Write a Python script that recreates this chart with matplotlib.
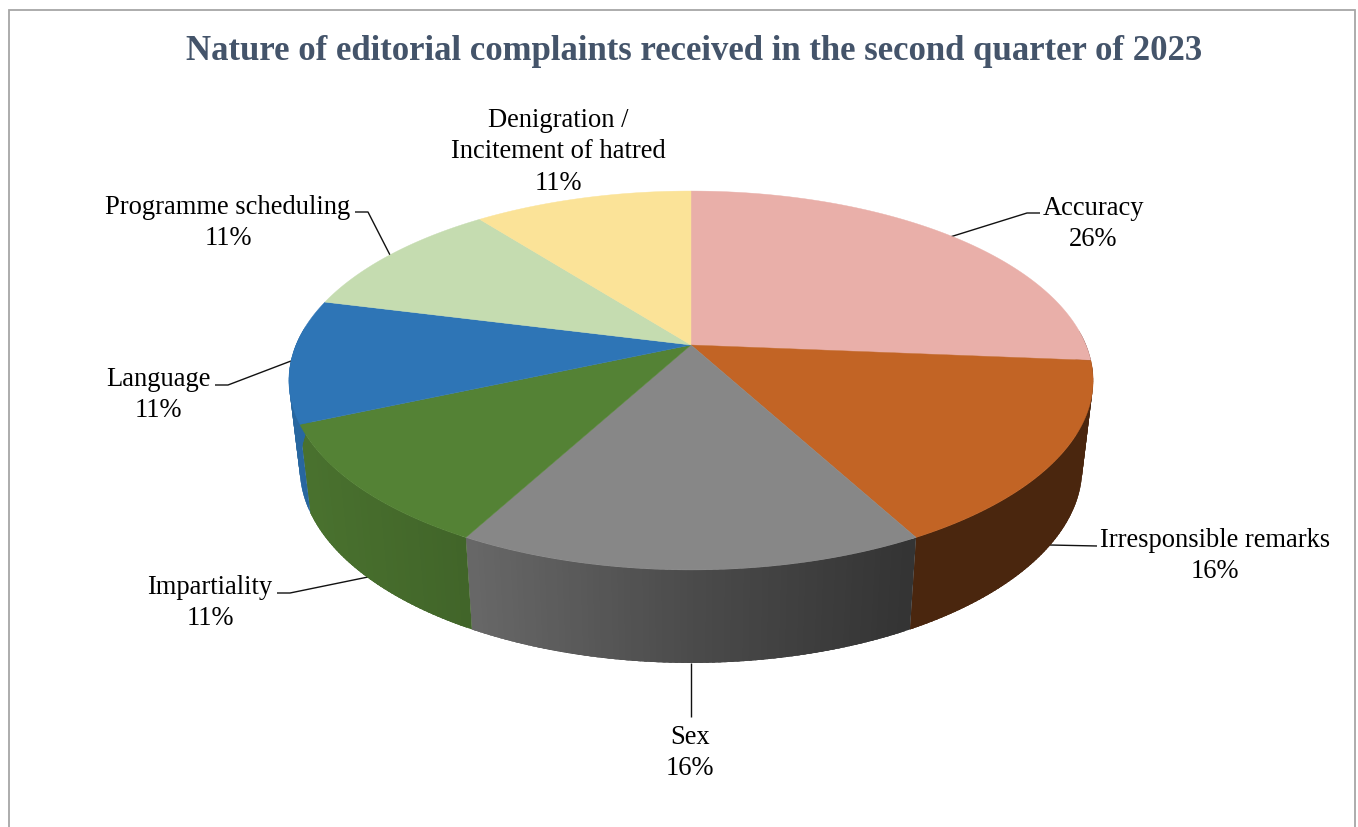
import numpy as np
import matplotlib
matplotlib.use("Agg")
import matplotlib.pyplot as plt
from matplotlib.colors import to_rgb
from matplotlib.patches import Polygon

# Complaint counts per category
categories = ["Accuracy", "Irresponsible remarks", "Sex", "Impartiality",
              "Language", "Programme scheduling", "Denigration /\nIncitement of hatred"]
complaints = [5, 3, 3, 2, 2, 2, 2]
top_colors = ["#e9afa9", "#c26425", "#878787", "#548235", "#2e75b6", "#c5dcb0", "#fbe398"]
title = "Nature of editorial complaints received in the second quarter of 2023"

# Label centres in pixels, and the leader line running from each label to its slice
label_pos = [(1093, 224), (1215, 556), (690, 753), (210, 603), (158, 395), (228, 223), (558, 152)]
leaders = [
    [(1040, 213), (1027, 213), (950, 237)],
    [(1097, 546), (1050, 545)],
    [(691, 663), (691, 717)],
    [(277, 593), (290, 593), (368, 577)],
    [(215, 385), (228, 385), (291, 361)],
    [(355, 212), (368, 212), (390, 255)],
]

# Perspective of the pie's top disc
CX, CY = 691.0, 345.0
KP, AX_R, AY_R = 0.1873, 395.0, 182.8
# Lower rim relative to the top rim
X_SHRINK, Y_STRETCH, RIM_TOP, RIM_BOTTOM = 0.973, 1.03, 537.0, 629.0


def top_rim(theta):
    """Clockwise angle from 12 o'clock -> point on the top disc's rim."""
    u, v = np.sin(theta), np.cos(theta)
    w = 1 + KP * v
    return CX + AX_R * u / w, CY - AY_R * v / w


def lower_rim(x, y):
    return CX + X_SHRINK * (x - CX), RIM_BOTTOM + Y_STRETCH * (y - RIM_TOP)


def wall_shade(x):
    """Side walls darken from left to right."""
    return np.interp(x, [290, 470, 691, 917, 1100], [0.88, 0.77, 0.56, 0.38, 0.38])


plt.rcParams["font.family"] = ["Liberation Serif", "DejaVu Serif"]
fig = plt.figure(figsize=(13.58, 8.27), dpi=100, facecolor="white")
ax = fig.add_axes([0, 0, 1, 1])
ax.set_xlim(0, 1358)
ax.set_ylim(827, 0)
ax.axis("off")

# Chart frame, open at the bottom
ax.plot([9, 9, 1355, 1355], [827, 10, 10, 827], color="#a6a6a6", lw=1.3, zorder=1,
        solid_joinstyle="miter")

shares = np.array(complaints, dtype=float) / sum(complaints)
edges = np.concatenate([[0], np.cumsum(shares)]) * 2 * np.pi

# Front walls only, as overlapping shaded strips painted left to right within each slice
for i, color in enumerate(top_colors):
    step = np.radians(0.75)
    t = np.arange(edges[i], edges[i + 1], step)
    t = t[np.cos(t) < 0.08]
    if t.size == 0:
        continue
    # Slices right of centre run clockwise from right to left, so reverse them
    order = t[::-1] if np.sin(t.mean()) > 0 else t
    for a in order:
        b = min(a + 2.5 * step, edges[i + 1])
        xa, ya = top_rim(a)
        xb, yb = top_rim(b)
        xa2, ya2 = lower_rim(xa, ya)
        xb2, yb2 = lower_rim(xb, yb)
        c = tuple(np.array(to_rgb(color)) * wall_shade((xa + xb) / 2))
        ax.add_patch(Polygon([(xa, ya), (xb, yb), (xb2, yb2), (xa2, ya2)], closed=True,
                             facecolor=c, edgecolor="none", zorder=2 + i * 0.01))

# Top faces
for i, color in enumerate(top_colors):
    t = np.linspace(edges[i], edges[i + 1], 200)
    x, y = top_rim(t)
    pts = np.column_stack([np.r_[CX, x], np.r_[CY, y]])
    ax.add_patch(Polygon(pts, closed=True, facecolor=color, edgecolor=color, lw=0.3, zorder=3))

# Leader lines
for path in leaders:
    xs, ys = zip(*path)
    ax.plot(xs, ys, color="#111111", lw=1.0, zorder=1.5, solid_capstyle="butt")

# Category labels with percentage shares
for name, share, (x, y) in zip(categories, shares, label_pos):
    ax.text(x, y, f"{name}\n{share * 100:.0f}%", ha="center", va="center",
            fontsize=19.1, color="black", linespacing=1.32, zorder=4)

ax.text(694.5, 52, title, ha="center", va="center", fontsize=25.0, fontweight="bold",
        color="#44546a", zorder=4)

fig.savefig("out.png", dpi=100, facecolor="white")
